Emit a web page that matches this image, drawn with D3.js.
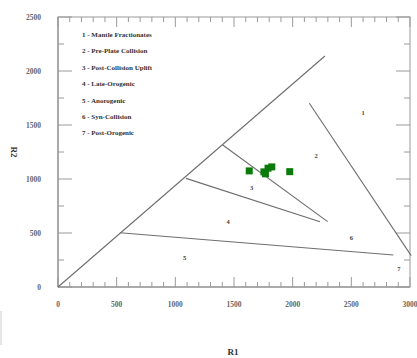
<!DOCTYPE html>
<html>
<head>
<meta charset="utf-8">
<script src="https://cdn.jsdelivr.net/npm/d3@7"></script>
<style>
  body { margin: 0; background: #fff; }
  svg { display: block; }
  text { font-family: "Liberation Serif", "DejaVu Serif", serif; }
</style>
</head>
<body>
<div id="chart"></div>
<script>
const WIDTH = 417, HEIGHT = 358;

// legend entries (top left of the plot)
const legendLabels = [
  "1 - Mantle Fractionates",
  "2 - Pre-Plate Collision",
  "3 - Post-Collision Uplift",
  "4 - Late-Orogenic",
  "5 - Anorogenic",
  "6 - Syn-Collision",
  "7 - Post-Orogenic"
];

// field numbers and where they sit (R1, R2)
const regionNums = ["1", "2", "3", "4", "5", "6", "7"];
const regionR1 = [2600, 2200, 1650, 1450, 1080, 2500, 2905];
const regionR2 = [1610, 1215, 915, 605, 270, 450, 170];

// field boundaries, as segments in data units
const lineR1a = [0, 2142, 1404, 1091, 528];
const lineR2a = [0, 1701, 1315, 1006, 503];
const lineR1b = [2275, 3010, 2298, 2233, 2858];
const lineR2b = [2139, 290, 605, 605, 296];

// samples
const sampleR1 = [1630, 1755, 1790, 1822, 1768, 1975];
const sampleR2 = [1075, 1066, 1100, 1112, 1048, 1068];

const xTicks = [0, 500, 1000, 1500, 2000, 2500, 3000];
const yTicks = [0, 500, 1000, 1500, 2000, 2500];

const x = d3.scaleLinear().domain([0, 3000]).range([58, 410]);
const y = d3.scaleLinear().domain([0, 2500]).range([287, 17]);

const svg = d3.select("#chart")
  .append("svg")
  .attr("width", WIDTH)
  .attr("height", HEIGHT);

const AXIS_COLOR = "#9a9a9a";

// frame
svg.append("rect")
  .attr("x", x(0))
  .attr("y", y(2500))
  .attr("width", x(3000) - x(0))
  .attr("height", y(0) - y(2500))
  .attr("fill", "none")
  .attr("stroke", AXIS_COLOR)
  .attr("stroke-width", 1);

// darker bottom/left axis lines
svg.append("line")
  .attr("x1", x(0)).attr("x2", x(3000))
  .attr("y1", y(0)).attr("y2", y(0))
  .attr("stroke", "#888");
svg.append("line")
  .attr("x1", x(0)).attr("x2", x(0))
  .attr("y1", y(0)).attr("y2", y(2500))
  .attr("stroke", "#888");

// x ticks, minor every 100, major every 500, inside on top and bottom
const xMinor = d3.range(0, 3001, 100);
svg.append("g").selectAll("line")
  .data(xMinor)
  .join("line")
  .attr("x1", d => x(d)).attr("x2", d => x(d))
  .attr("y1", y(0))
  .attr("y2", d => y(0) - (d % 500 === 0 ? 10 : 5))
  .attr("stroke", AXIS_COLOR);
svg.append("g").selectAll("line")
  .data(xMinor)
  .join("line")
  .attr("x1", d => x(d)).attr("x2", d => x(d))
  .attr("y1", y(2500))
  .attr("y2", d => y(2500) + (d % 500 === 0 ? 10 : 5))
  .attr("stroke", AXIS_COLOR);

// y ticks, minor every 250, major every 500, inside on left and right
const yMinor = d3.range(0, 2501, 250);
svg.append("g").selectAll("line")
  .data(yMinor)
  .join("line")
  .attr("y1", d => y(d)).attr("y2", d => y(d))
  .attr("x1", x(0))
  .attr("x2", d => x(0) + (d % 500 === 0 ? 14 : 6))
  .attr("stroke", AXIS_COLOR);
svg.append("g").selectAll("line")
  .data(yMinor)
  .join("line")
  .attr("y1", d => y(d)).attr("y2", d => y(d))
  .attr("x1", x(3000))
  .attr("x2", d => x(3000) - (d % 500 === 0 ? 14 : 6))
  .attr("stroke", AXIS_COLOR);

// tick labels
svg.append("g").selectAll("text")
  .data(xTicks)
  .join("text")
  .attr("x", d => x(d))
  .attr("y", 307)
  .attr("text-anchor", "middle")
  .attr("font-size", 7.5)
  .attr("font-weight", "bold")
  .attr("fill", "#666")
  .text(d => d);

svg.append("g").selectAll("text")
  .data(yTicks)
  .join("text")
  .attr("x", 41)
  .attr("y", d => y(d) + 2.5)
  .attr("text-anchor", "end")
  .attr("font-size", 7.5)
  .attr("font-weight", "bold")
  .attr("fill", "#666")
  .text(d => d);

// axis titles
svg.append("text")
  .attr("x", 233)
  .attr("y", 355)
  .attr("text-anchor", "middle")
  .attr("font-size", 9)
  .attr("font-weight", "bold")
  .attr("fill", "#333")
  .text("R1");

svg.append("text")
  .attr("transform", "translate(11,152) rotate(90)")
  .attr("text-anchor", "middle")
  .attr("font-size", 9)
  .attr("font-weight", "bold")
  .attr("fill", "#333")
  .text("R2");

// faint stray edge at the left margin
svg.append("line")
  .attr("x1", 1).attr("x2", 1)
  .attr("y1", 311).attr("y2", 345)
  .attr("stroke", "#ccc");

// field boundaries
svg.append("g").selectAll("line")
  .data(d3.range(lineR1a.length))
  .join("line")
  .attr("x1", i => x(lineR1a[i]))
  .attr("y1", i => y(lineR2a[i]))
  .attr("x2", i => x(lineR1b[i]))
  .attr("y2", i => y(lineR2b[i]))
  .attr("stroke", "#6e6e6e")
  .attr("stroke-width", 1.1);

// field numbers
svg.append("g").selectAll("text")
  .data(regionNums)
  .join("text")
  .attr("x", (d, i) => x(regionR1[i]))
  .attr("y", (d, i) => y(regionR2[i]) + 2)
  .attr("text-anchor", "middle")
  .attr("font-size", 6.5)
  .attr("font-weight", "bold")
  .attr("fill", "#444")
  .text(d => d);

// legend
svg.append("g").selectAll("text")
  .data(legendLabels)
  .join("text")
  .attr("x", 82)
  .attr("y", (d, i) => 37 + i * 16.4)
  .attr("font-size", 7)
  .attr("font-weight", "bold")
  .attr("fill", "#333")
  .text(d => d);

// samples
const SQ = 7;
svg.append("g").selectAll("rect")
  .data(d3.range(sampleR1.length))
  .join("rect")
  .attr("x", i => x(sampleR1[i]) - SQ / 2)
  .attr("y", i => y(sampleR2[i]) - SQ / 2)
  .attr("width", SQ)
  .attr("height", SQ)
  .attr("fill", "#0a7a0a");
</script>
</body>
</html>
